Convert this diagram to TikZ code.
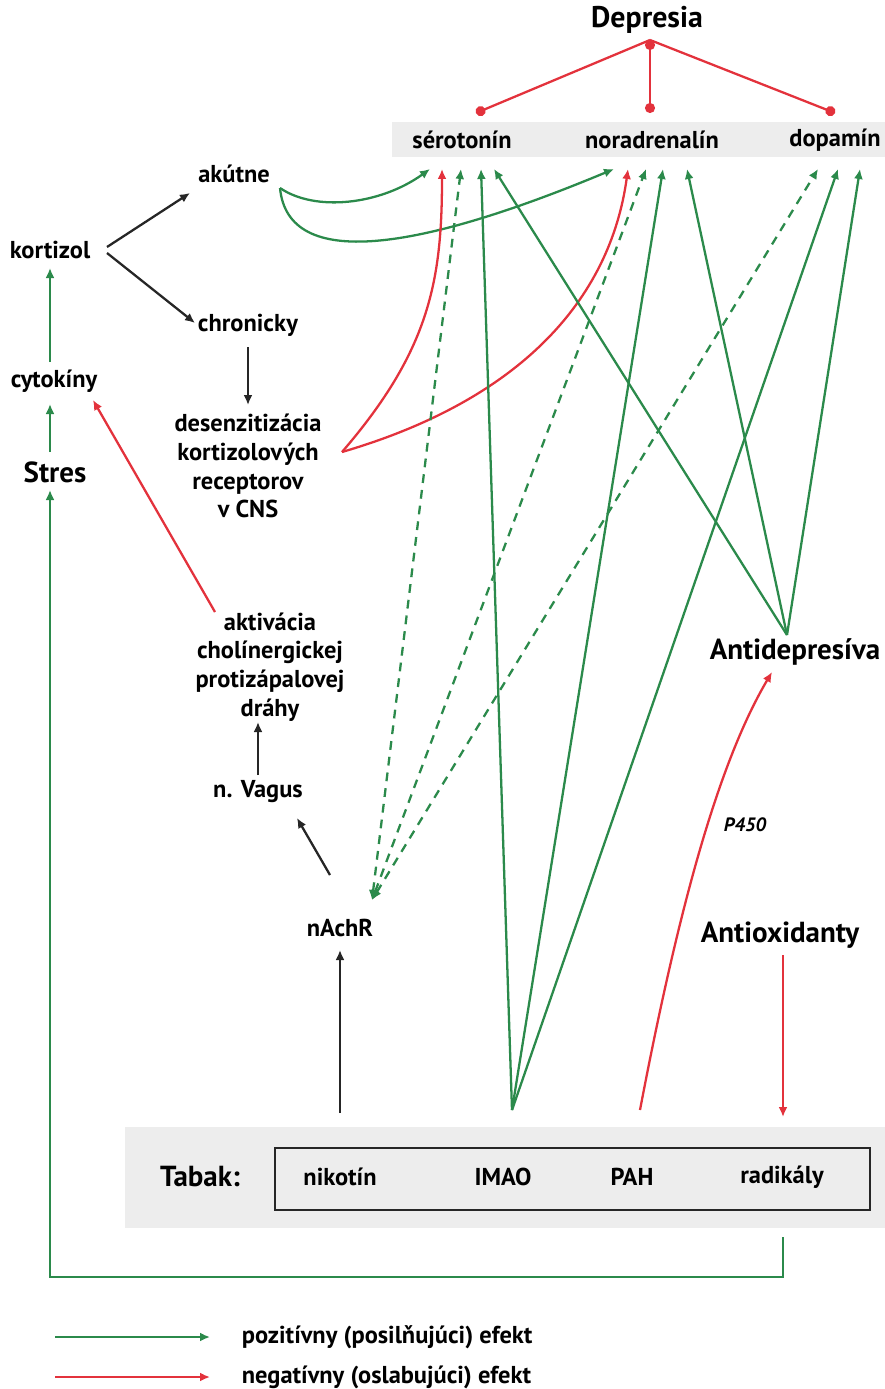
\documentclass[tikz,border=0pt]{standalone}
\usepackage{fontspec}
\setmainfont{PT Sans}
\usepackage{tikz}
\usetikzlibrary{arrows.meta, calc}
\definecolor{posgreen}{HTML}{2B8A4B}
\definecolor{negred}{HTML}{E3323C}
\definecolor{bandgray}{HTML}{EDEDED}
\tikzset{
  lbl/.style={font=\bfseries\fontsize{13.9}{16.4}\selectfont, align=center, inner sep=2pt},
  big/.style={font=\bfseries\fontsize{16.5}{19}\selectfont, inner sep=2pt},
  posarr/.style={-{Latex[length=2mm, width=1.8mm]}, line width=1.3pt, draw=posgreen},
  negarr/.style={-{Latex[length=2mm, width=1.8mm]}, line width=1.3pt, draw=negred},
  blkarr/.style={-{Latex[length=2mm, width=1.8mm]}, line width=1.3pt, draw=black!85},
  dposarr/.style={{Latex[length=2mm, width=1.8mm]}-{Latex[length=2mm, width=1.8mm]},
               line width=1.3pt, draw=posgreen, dash pattern=on 5pt off 4pt},
  inhib/.style={-{Circle[length=2mm]}, line width=1.3pt, draw=negred},
}
\begin{document}
\begin{tikzpicture}[x=0.02cm, y=-0.02cm]
  \useasboundingbox (0,0) rectangle (885,1389);
  % grey bands
  \fill[bandgray] (392,122) rectangle (885,157);
  \fill[bandgray] (125,1127) rectangle (885,1228);
  \draw[line width=1.6pt, draw=black!85] (275,1148) rectangle (870,1210);

  % nodes
  \node[big, font=\bfseries\fontsize{17}{19}\selectfont] (depr) at (647,20) {Depresia};
  \node[lbl] (sero) at (462,140) {sérotonín};
  \node[lbl] (nora) at (652,140) {noradrenalín};
  \node[lbl] (dopa) at (835,140) {dopamín};
  \node[lbl] (akut) at (234,174) {akútne};
  \node[lbl] (kort) at (50,250) {kortizol};
  \node[lbl] (chron) at (248,325) {chronicky};
  \node[lbl] (cyto) at (54,381) {cytokíny};
  \node[lbl] (desen) at (248,466) {desenzitizácia\\kortizolových\\receptorov\\v CNS};
  \node[big] (stres) at (55,472) {Stres};
  \node[lbl] (aktiv) at (270,667) {aktivácia\\cholínergickej\\protizápalovej\\dráhy};
  \node[big] (antid) at (795,652) {Antidepresíva};
  \node[lbl] (vagus) at (258,792) {n. Vagus};
  \node[lbl, font=\bfseries\itshape\fontsize{11}{13}\selectfont] (p450) at (745,825) {P450};
  \node[lbl] (nachr) at (340,928) {nAchR};
  \node[big] (antiox) at (780,935) {Antioxidanty};
  \node[big] (tabak) at (200,1177) {Tabak:};
  \node[lbl] (nikot) at (340,1177) {nikotín};
  \node[lbl] (imao) at (503,1177) {IMAO};
  \node[lbl] (pah) at (632,1177) {PAH};
  \node[lbl] (radik) at (782,1177) {radikály};
  \node[lbl, anchor=west] (legpos) at (238,1337) {pozitívny (posilňujúci) efekt};
  \node[lbl, anchor=west] (legneg) at (238,1377) {negatívny (oslabujúci) efekt};

  % depresia -> transmitters
  \draw[inhib, {Circle[length=2mm]}-{Circle[length=2mm]}] ($(depr)+(3,20)$) -- ($(nora)+(-2,-27)$);
  \draw[inhib] ($(depr)+(3,20)$) -- ($(sero)+(14,-27)$);
  \draw[inhib] ($(depr)+(3,20)$) -- ($(dopa)+(0,-27)$);

  % left chain
  \draw[posarr] ($(stres)+(-5,-20)$) -- ($(cyto)+(-4,23)$);
  \draw[posarr] ($(cyto)+(-4,-19)$) -- ($(kort)+(0,18)$);
  \draw[blkarr] ($(kort)+(57,-3)$) -- ($(akut)+(-44,19)$);
  \draw[blkarr] ($(kort)+(57,3)$) -- ($(chron)+(-53,-2)$);
  \draw[blkarr] ($(chron)+(0,22)$) -- ($(desen)+(0,-61)$);
  \draw[negarr] ($(aktiv)+(-55,-55)$) -- ($(cyto)+(39,19)$);
  \draw[blkarr] ($(vagus)+(0,-17)$) -- ($(aktiv)+(-12,55)$);
  \draw[blkarr] ($(nachr)+(-10,-53)$) -- ($(vagus)+(39,26)$);
  \draw[blkarr] ($(nikot)+(0,-64)$) -- ($(nachr)+(0,22)$);

  % akutne
  \draw[posarr] ($(akut)+(46,14)$) .. controls (315,212) and (380,205) .. ($(sero)+(-32,29)$);
  \draw[posarr] ($(akut)+(46,14)$) .. controls (288,272) and (420,250) .. ($(nora)+(-38,29)$);

  % desenzitizacia
  \draw[negarr] ($(desen)+(94,-14)$) .. controls (430,350) and (442,280) .. ($(sero)+(-20,29)$);
  \draw[negarr] ($(desen)+(94,-14)$) .. controls (520,400) and (610,300) .. ($(nora)+(-24,29)$);

  % nAchR
  \draw[dposarr] ($(nachr)+(32,-28)$) -- ($(sero)+(-1,29)$);
  \draw[dposarr] ($(nachr)+(32,-28)$) -- ($(nora)+(-6,29)$);
  \draw[dposarr] ($(nachr)+(32,-28)$) -- ($(dopa)+(-17,29)$);

  % IMAO
  \draw[posarr] ($(imao)+(9,-67)$) -- ($(sero)+(19,29)$);
  \draw[posarr] ($(imao)+(9,-67)$) -- ($(nora)+(11,29)$);
  \draw[posarr] ($(imao)+(9,-67)$) -- ($(dopa)+(3,29)$);

  % antidepresiva
  \draw[posarr] ($(antid)+(-8,-17)$) -- ($(sero)+(32,29)$);
  \draw[posarr] ($(antid)+(-8,-17)$) -- ($(nora)+(35,29)$);
  \draw[posarr] ($(antid)+(-8,-17)$) -- ($(dopa)+(25,29)$);

  % PAH, antioxidanty, radikaly
  \draw[negarr] ($(pah)+(8,-67)$) .. controls (680,900) and (720,760) .. ($(antid)+(-23,20)$);
  \draw[negarr] ($(antiox)+(3,20)$) -- ($(radik)+(1,-60)$);
  \draw[posarr] ($(radik)+(1,60)$) -- ++(0,40) -| ($(stres)+(-5,18)$);

  % legend
  \draw[posarr] ($(legpos.west)+(-183,0)$) -- ($(legpos.west)+(-28,0)$);
  \draw[negarr] ($(legneg.west)+(-183,0)$) -- ($(legneg.west)+(-28,0)$);
\end{tikzpicture}
\end{document}
